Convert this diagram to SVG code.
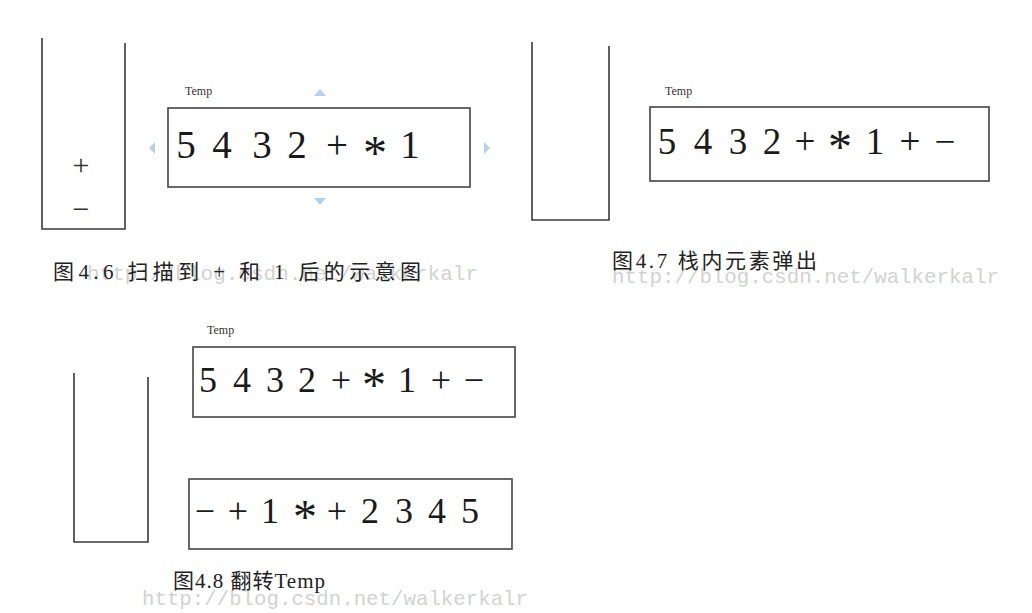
<svg xmlns="http://www.w3.org/2000/svg" width="1032" height="613" viewBox="0 0 1032 613">
<style>
.ln{fill:none;stroke:#3a3a3a;stroke-width:1.6}
.box{fill:#fff;stroke:#444;stroke-width:1.6}
.seq{font-family:"Liberation Serif",serif;fill:#1a1a1a;text-anchor:middle}
.ast{font-family:"Liberation Serif",serif;fill:#1a1a1a;text-anchor:middle;font-size:48px}
.tmp{font-family:"Liberation Serif",serif;font-size:12px;fill:#333}
.cap{font-family:"Liberation Serif","Noto Sans CJK SC",serif;font-size:21px;fill:#222}
.wm{font-family:"Liberation Mono",monospace;font-size:21px;fill:#d2d2d2}
.stk{font-family:"Liberation Serif",serif;font-size:30px;fill:#333;text-anchor:middle}
.hdl{fill:#b4d0ec}
</style>
<rect width="1032" height="613" fill="#fff"/>

<g id="fig46">
  <g id="stack1">
    <polyline class="ln" points="42,38 42,229 125,229 125,43"/>
    <text class="stk" x="81" y="175">+</text>
    <text class="stk" x="81" y="219">−</text>
  </g>
  <g id="temp1">
    <text class="tmp" x="185" y="95">Temp</text>
    <rect class="box" x="168" y="108" width="302" height="79"/>
    <text class="seq" font-size="39" x="186 222 262 297 337" y="158">5432+</text>
    <text class="ast" x="375" y="169">*</text>
    <text class="seq" font-size="39" x="410" y="158">1</text>
    <polygon class="hdl" points="314,96 326,96 320,89"/>
    <polygon class="hdl" points="314,198 326,198 320,205"/>
    <polygon class="hdl" points="155,142 155,154 149,148"/>
    <polygon class="hdl" points="484,142 484,154 490,148"/>
  </g>
  <text class="wm" x="87" y="280" textLength="391" lengthAdjust="spacingAndGlyphs">http://blog.csdn.net/walkerkalr</text>
  <text class="cap" x="53" y="279" textLength="368" lengthAdjust="spacing">图4.6 扫描到 + 和 1 后的示意图</text>
</g>

<g id="fig47">
  <g id="stack2">
    <polyline class="ln" points="532,42 532,220 609,220 609,46"/>
  </g>
  <g id="temp2">
    <text class="tmp" x="665" y="95">Temp</text>
    <rect class="box" x="650" y="107" width="339" height="74"/>
    <text class="seq" font-size="37" x="667 703 738 772 805" y="154">5432+</text>
    <text class="ast" x="840" y="163">*</text>
    <text class="seq" font-size="37" x="875 910 945" y="154">1+−</text>
  </g>
  <text class="wm" x="612" y="283" textLength="387" lengthAdjust="spacingAndGlyphs">http://blog.csdn.net/walkerkalr</text>
  <text class="cap" x="612" y="268" textLength="205" lengthAdjust="spacing">图4.7 栈内元素弹出</text>
</g>

<g id="fig48">
  <g id="stack3">
    <polyline class="ln" points="74,373 74,542 148,542 148,377"/>
  </g>
  <g id="temp3">
    <text class="tmp" x="207" y="334">Temp</text>
    <rect class="box" x="193" y="347" width="322" height="70"/>
    <text class="seq" font-size="36" x="208 242 275 307 341" y="392">5432+</text>
    <text class="ast" x="374" y="401">*</text>
    <text class="seq" font-size="36" x="407 441 474" y="392">1+−</text>
  </g>
  <g id="temp3r">
    <rect class="box" x="189" y="479" width="323" height="70"/>
    <text class="seq" font-size="36" x="205 238 270" y="523">−+1</text>
    <text class="ast" x="305" y="533">*</text>
    <text class="seq" font-size="36" x="337 370 404 437 470" y="523">+2345</text>
  </g>
  <text class="wm" x="142" y="605" textLength="386" lengthAdjust="spacingAndGlyphs">http://blog.csdn.net/walkerkalr</text>
  <text class="cap" x="173" y="588" textLength="152" lengthAdjust="spacing">图4.8 翻转Temp</text>
</g>
</svg>
